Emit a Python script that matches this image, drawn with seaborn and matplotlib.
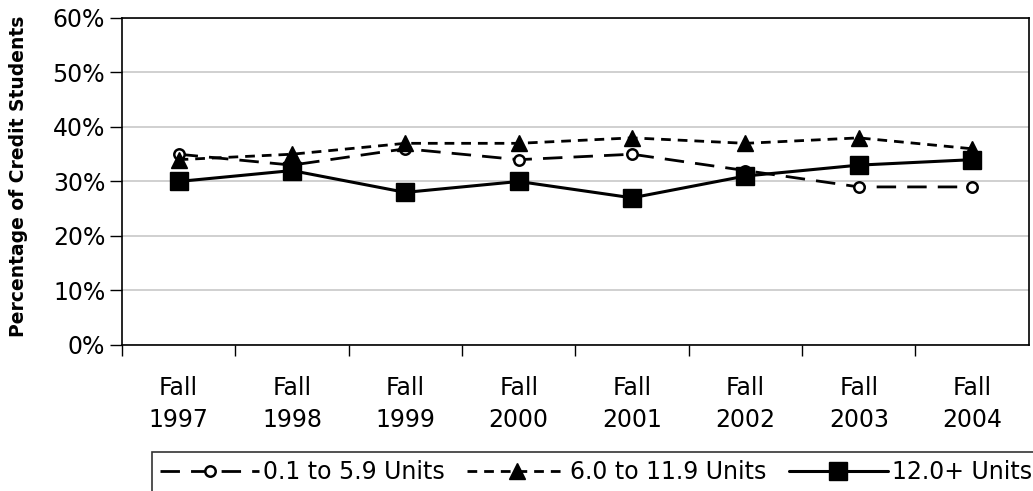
import matplotlib
matplotlib.use("Agg")
import matplotlib.pyplot as plt
import seaborn as sns
import pandas as pd
import numpy as np

categories = ["Fall\n1997", "Fall\n1998", "Fall\n1999", "Fall\n2000",
              "Fall\n2001", "Fall\n2002", "Fall\n2003", "Fall\n2004"]
series_names = ["0.1 to 5.9 Units", "6.0 to 11.9 Units", "12.0+ Units"]
low_units = [35, 33, 36, 34, 35, 32, 29, 29]
mid_units = [34, 35, 37, 37, 38, 37, 38, 36]
full_units = [30, 32, 28, 30, 27, 31, 33, 34]
y_ticks = [0, 10, 20, 30, 40, 50, 60]
y_tick_labels = ["0%", "10%", "20%", "30%", "40%", "50%", "60%"]

rows = []
for name, vals in zip(series_names, [low_units, mid_units, full_units]):
    for i, v in enumerate(vals):
        rows.append({"pos": i, "value": v, "series": name})
df = pd.DataFrame(rows)

sns.set_style("white")
plt.rcParams["font.family"] = ["DejaVu Sans"]
plt.rcParams["text.color"] = "black"
plt.rcParams["xtick.color"] = "black"
plt.rcParams["ytick.color"] = "black"
plt.rcParams["axes.labelcolor"] = "black"

fig = plt.figure(figsize=(10.33, 4.91), dpi=100)
ax = fig.add_axes([0.118, 0.2974, 0.878, 0.666])

styles = {
    series_names[0]: dict(ls=(0, (7, 4)), marker="o", ms=7.5, mfc="white", mew=1.8, lw=2.0),
    series_names[1]: dict(ls=(0, (3.5, 2.5)), marker="^", ms=11, mfc="black", mew=1, lw=2.0),
    series_names[2]: dict(ls="-", marker="s", ms=13.5, mfc="black", mew=1, lw=2.2),
}
for name in series_names:
    st = styles[name]
    sub = df[df["series"] == name]
    sns.lineplot(data=sub, x="pos", y="value", ax=ax, color="black",
                 linestyle=st["ls"], linewidth=st["lw"], marker=st["marker"],
                 markersize=st["ms"], markerfacecolor=st["mfc"],
                 markeredgecolor="black", markeredgewidth=st["mew"],
                 label=name, legend=False)

ax.set_xlim(-0.5, 7.5)
ax.set_ylim(0, 60)
ax.set_yticks(y_ticks)
ax.set_yticklabels(y_tick_labels, fontsize=17)
ax.yaxis.grid(True, color="#c8c8c8", lw=1.2)
ax.set_axisbelow(True)

ax.set_xticks(np.arange(8) - 0.5, minor=False)
ax.set_xticklabels([])
ax.set_xticks(np.arange(8), minor=True)
ax.set_xticklabels(categories, minor=True, fontsize=17, linespacing=1.45)
ax.tick_params(axis="x", which="major", direction="out", length=8, width=1, color="black", bottom=True)
ax.tick_params(axis="x", which="minor", length=0, pad=22)
ax.tick_params(axis="y", direction="out", length=9, width=1, color="black", left=True, pad=3)

for s in ax.spines.values():
    s.set_color("black")
    s.set_linewidth(1.2)

ax.set_xlabel("")
ax.set_ylabel("Percentage of Credit Students", fontsize=13.5, fontweight="bold")
ax.yaxis.set_label_coords(-0.1036, 0.517)

handles, labels = ax.get_legend_handles_labels()
leg = fig.legend(handles, labels, loc="upper left",
                 bbox_to_anchor=(152 / 1033, 0, (1040 - 152) / 1033, 1 - 452 / 491),
                 mode="expand", ncol=3, frameon=True, fancybox=False, edgecolor="black",
                 fontsize=17, handlelength=4.2, columnspacing=0.2, handletextpad=0.15,
                 borderpad=0.35, borderaxespad=0)
leg.get_frame().set_linewidth(1.2)

fig.savefig("out.png", dpi=100, facecolor="white")
